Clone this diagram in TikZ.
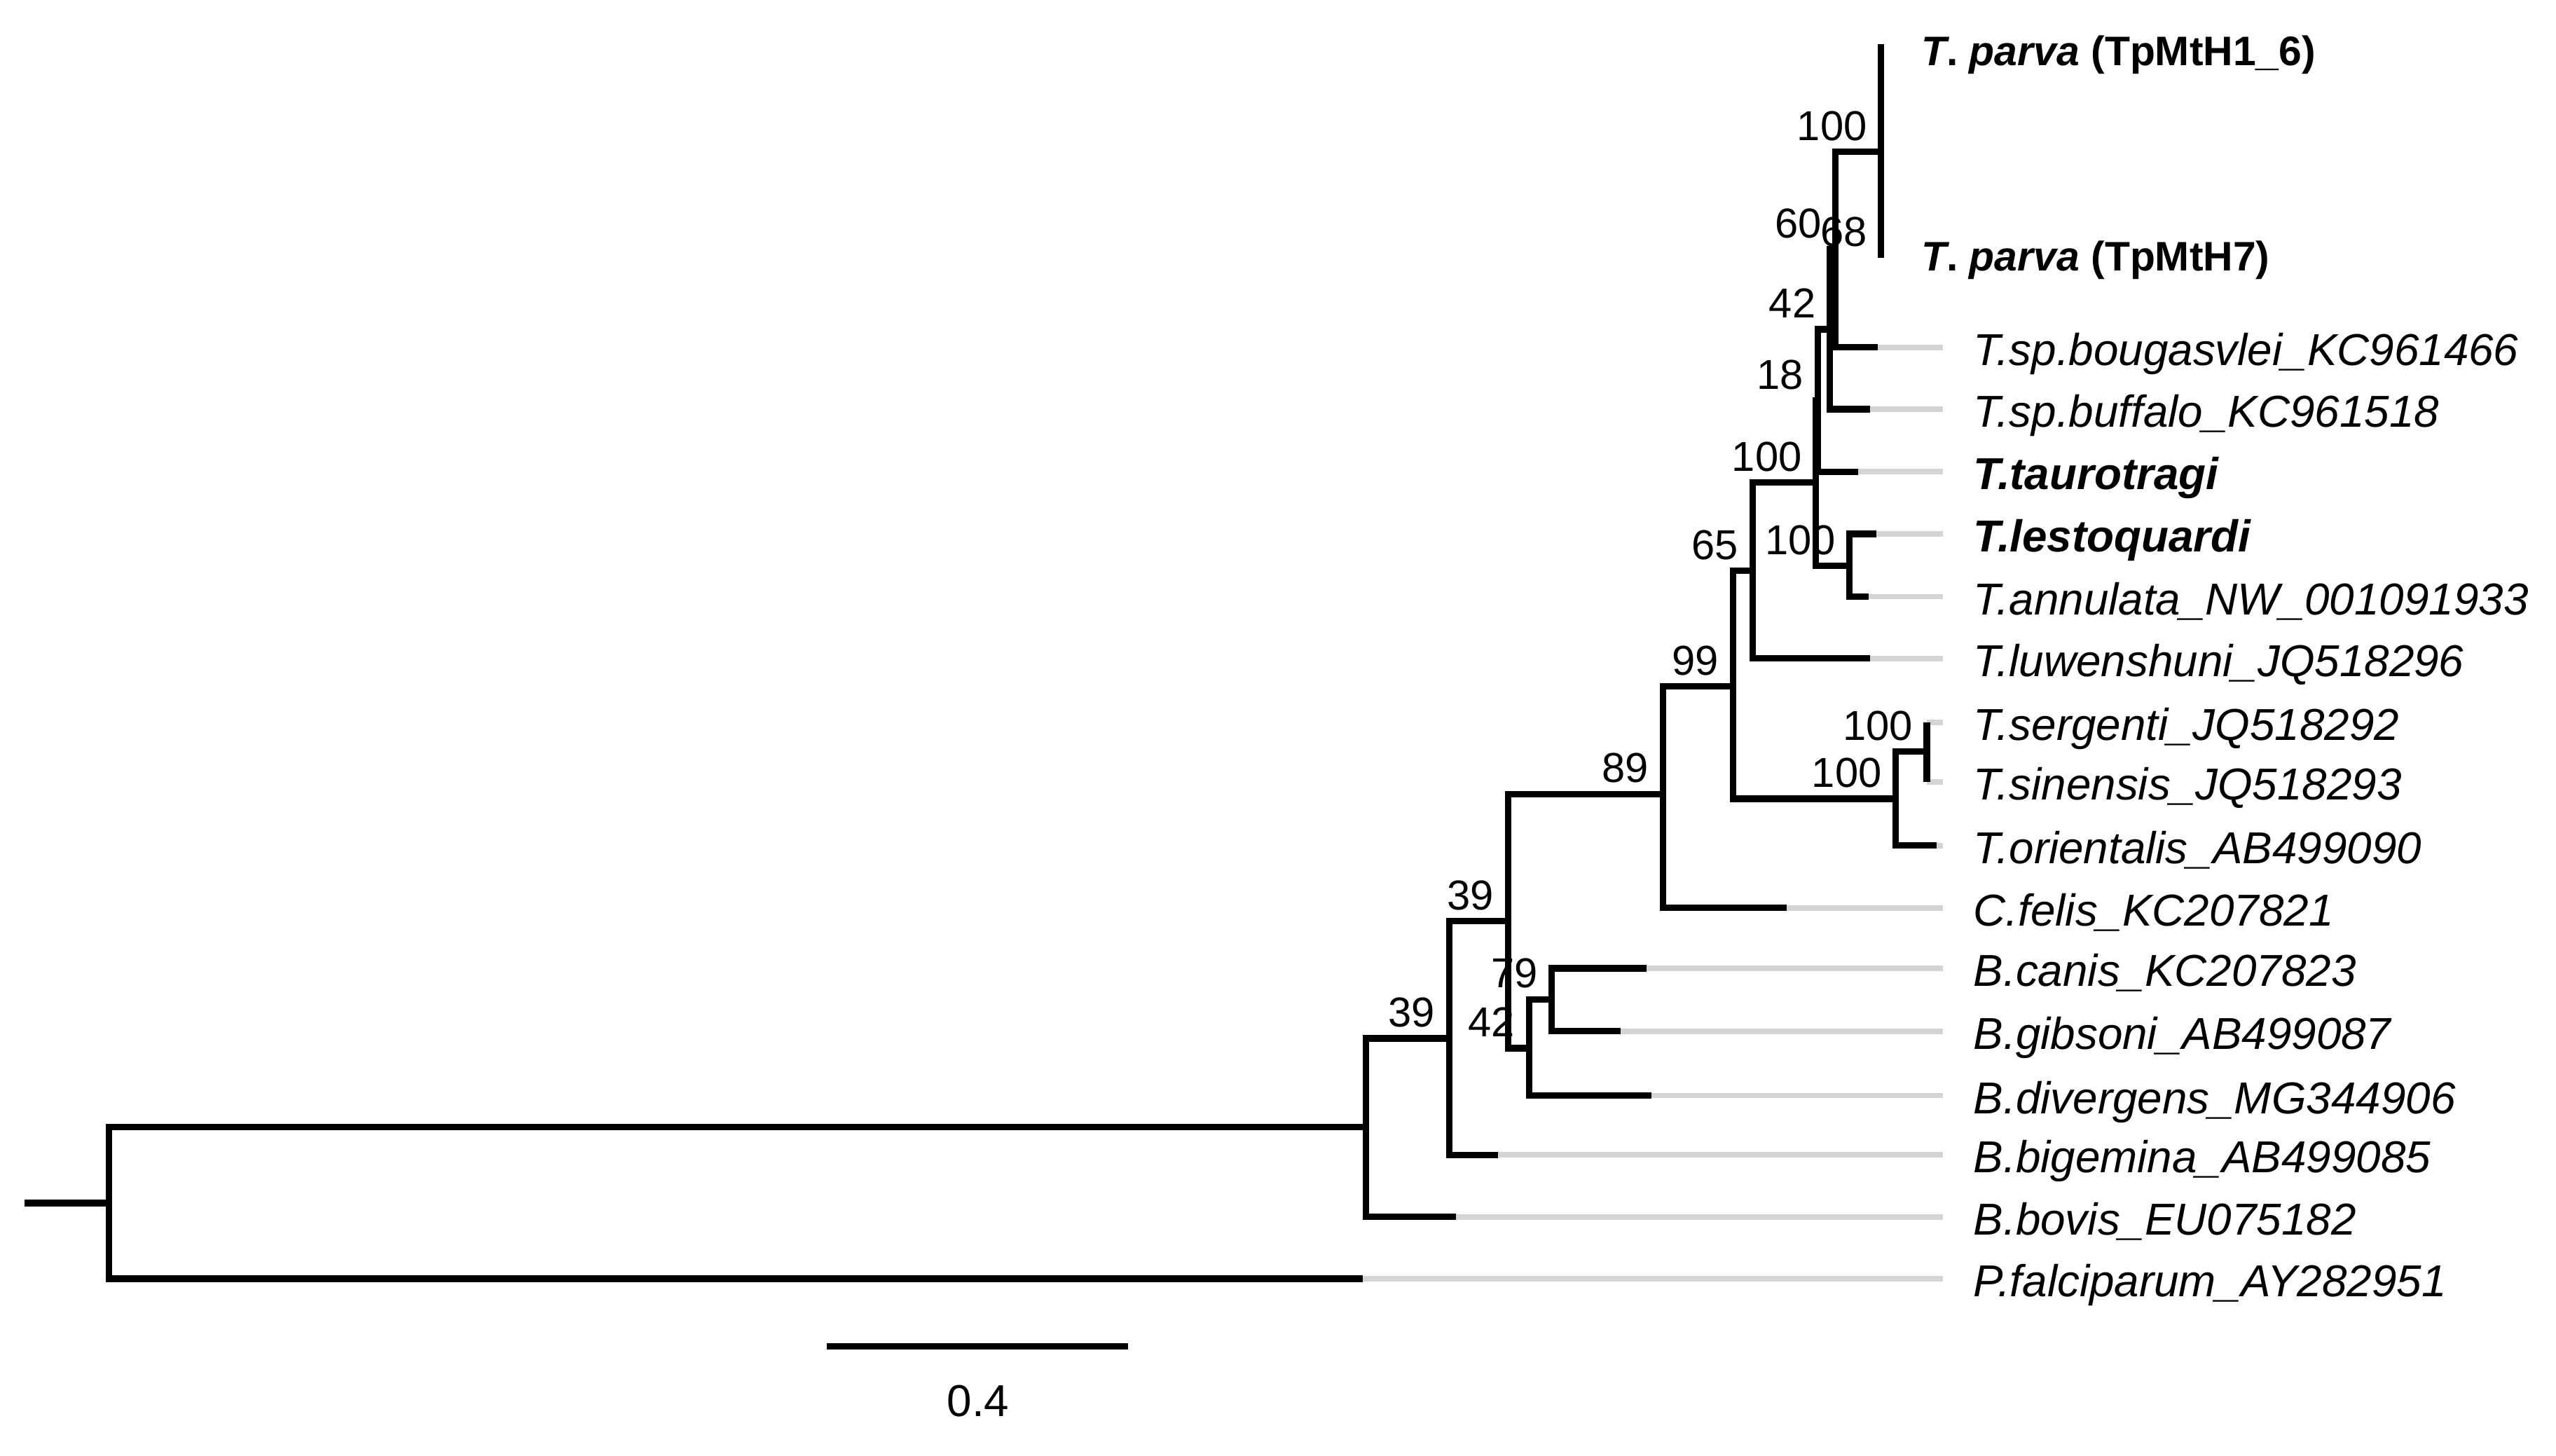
\documentclass[tikz,border=0pt]{standalone}
\usepackage{fontspec}
\setmainfont{Liberation Sans}
\begin{document}
\begin{tikzpicture}[x=0.1mm,y=-0.1mm,
    branch/.style={line width=0.39mm,black,line join=miter},
    tail/.style={line width=0.34mm,black!17},
    leaf/.style={anchor=base west,inner sep=0pt,yshift=-1.1mm,font=\fontsize{7.8}{9}\selectfont\itshape},
    boot/.style={anchor=base east,inner sep=0pt,xshift=-0.8mm,yshift=0.7mm,font=\fontsize{7.3}{9}\selectfont},
    parva/.style={anchor=base west,inner sep=0pt,font=\fontsize{7.2}{9}\selectfont\bfseries}]

  \fill[white] (0,0) rectangle (1568,893);
  \useasboundingbox (0,0) rectangle (1568,893);

  \foreach \n/\x/\y/\t in {
      bouga/1152/213/{T.sp.bougasvlei\_KC961466},
      buffalo/1147/251/{T.sp.buffalo\_KC961518},
      tauro/1140/289.4/{\textbf{T.taurotragi}},
      lesto/1151/327.5/{\textbf{T.lestoquardi}},
      annul/1146.5/366/{T.annulata\_NW\_001091933},
      luwen/1147/404/{T.luwenshuni\_JQ518296},
      serg/1182/443/{T.sergenti\_JQ518292},
      sinen/1182/479.5/{T.sinensis\_JQ518293},
      orient/1188/518.7/{T.orientalis\_AB499090},
      felis/1096/557/{C.felis\_KC207821},
      canis/1010/594/{B.canis\_KC207823},
      gibsoni/994/632.6/{B.gibsoni\_AB499087},
      diverg/1013/672/{B.divergens\_MG344906},
      bigem/919/708.5/{B.bigemina\_AB499085},
      bovis/893/746.5/{B.bovis\_EU075182},
      falci/836/784.4/{P.falciparum\_AY282951}}
  {
    \coordinate (t-\n) at (\x,\y);
    \coordinate (e-\n) at (1192,\y);
    \draw[tail] (t-\n) -- (e-\n);
    \node[leaf] (l-\n) at (1210,\y) {\t};
  }

  \coordinate (stem) at (15,738);
  \coordinate (root) at (67,738);
  \coordinate (nA) at (838,691.5);
  \coordinate (n39b) at (889,637);
  \coordinate (n39t) at (925,565);
  \coordinate (n42b) at (938,643);
  \coordinate (n79) at (952,613);
  \coordinate (n89) at (1020,487);
  \coordinate (n99) at (1063,421);
  \coordinate (n100s) at (1163,490);
  \coordinate (n100ss) at (1182,461);
  \coordinate (n65) at (1075,350);
  \coordinate (n100a) at (1114,296);
  \coordinate (n100b) at (1134.5,347);
  \coordinate (n18) at (1115,245.7);
  \coordinate (n42) at (1122.5,202);
  \coordinate (n60) at (1126,153);
  \coordinate (nparva) at (1154,93);
  \coordinate (pv1) at (1154,27);
  \coordinate (n68) at (1154,158);

  \draw[branch] (stem) -- (root);
  \draw[branch] (nA) -| (root) |- (t-falci);
  \draw[branch] (n39b) -| (nA) |- (t-bovis);
  \draw[branch] (n39t) -| (n39b) |- (t-bigem);
  \draw[branch] (n89) -| (n39t) |- (n42b);
  \draw[branch] (n79) -| (n42b) |- (t-diverg);
  \draw[branch] (t-canis) -| (n79) |- (t-gibsoni);
  \draw[branch] (n99) -| (n89) |- (t-felis);
  \draw[branch] (n65) -| (n99) |- (n100s);
  \draw[branch] (n100ss) -| (n100s) |- (t-orient);
  \draw[branch] (t-serg) -| (n100ss) |- (t-sinen);
  \draw[branch] (n100a) -| (n65) |- (t-luwen);
  \draw[branch] (n18) -| (n100a) |- (n100b);
  \draw[branch] (t-lesto) -| (n100b) |- (t-annul);
  \draw[branch] (n42) -| (n18) |- (t-tauro);
  \draw[branch] (n60) -| (n42) |- (t-buffalo);
  \draw[branch] (nparva) -| (n60) |- (t-bouga);
  \draw[branch] (pv1) -| (nparva) |- (n68);

  \foreach \n/\v in {nparva/100,n60/60,n68/68,n42/42,n18/18,n100a/100,n100b/100,
      n65/65,n99/99,n100ss/100,n100s/100,n89/89,n39t/39,n79/79,n42b/42,n39b/39}
  {
    \node[boot] (b-\n) at (\n) {\v};
  }

  \node[parva] (l-pv1) at (1178,40) {\textit{T}. \textit{parva} (TpMtH1\_6)};
  \node[parva] (l-pv7) at (1178,166) {\textit{T}. \textit{parva} (TpMtH7)};

  \coordinate (s1) at (507,826);
  \coordinate (s2) at (692,826);
  \draw[branch] (s1) -- (s2);
  \node[anchor=base,inner sep=0pt,font=\fontsize{7.8}{9}\selectfont] (sbar) at (600,869) {0.4};

\end{tikzpicture}
\end{document}
